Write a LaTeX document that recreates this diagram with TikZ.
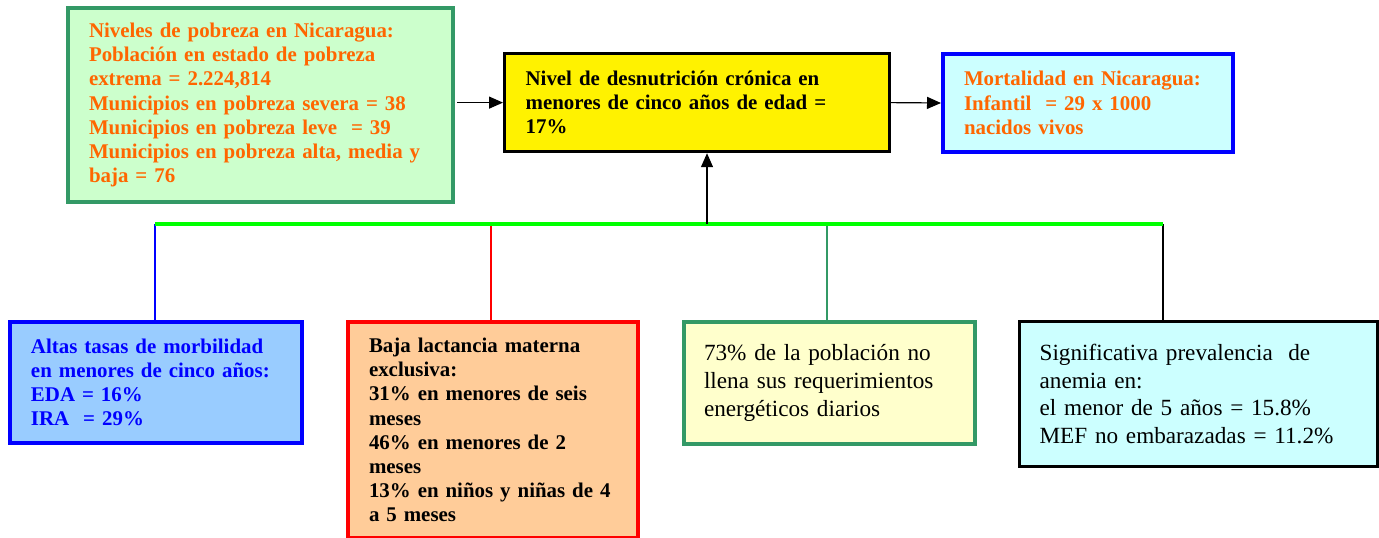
\documentclass[tikz,border=0pt]{standalone}
\usepackage{fontspec}
\setmainfont{Liberation Serif}
\usepackage{xcolor}
\usetikzlibrary{arrows.meta}
\usetikzlibrary{positioning}

\definecolor{seagreen}{HTML}{339966}
\definecolor{palegreen}{HTML}{CCFFCC}
\definecolor{naranja}{HTML}{FF6600}
\definecolor{palecyan}{HTML}{CCFFFF}
\definecolor{paleblue}{HTML}{99CCFF}
\definecolor{peach}{HTML}{FFCC99}
\definecolor{paleyellow}{HTML}{FFFFCC}
\definecolor{brightgreen}{HTML}{00FF00}

\tikzset{
  caja/.style={draw, rectangle, anchor=north west, align=left,
    inner xsep=10.5pt, inner ysep=0pt, line width=1.6pt},
  negrita/.style={font=\fontsize{10.45}{12.1}\selectfont\bfseries},
  normal/.style={font=\fontsize{11.6}{13.8}\selectfont, inner xsep=10pt},
  flecha/.style={-{Triangle[length=7pt,width=6pt]}, line width=0.6pt}
}

\begin{document}
\begin{tikzpicture}[x=0.5pt, y=-0.5pt]
    \useasboundingbox (0,0) rectangle (1379,537);
    % top row
    \node[caja, negrita, draw=seagreen, line width=2pt, fill=palegreen, text=naranja,
          text width=171.5pt, minimum height=97pt] (pobreza) at (66,6)
      {Niveles de pobreza en Nicaragua:\\
       Población en estado de pobreza\\
       extrema = 2.224,814\\
       Municipios en pobreza severa = 38\\
       Municipios en pobreza leve \ = 39\\
       Municipios en pobreza alta, media y\\
       baja = 76};
    \node[caja, negrita, fill=yellow, text width=171.5pt, minimum height=49pt]
      (desnut) at (503,52)
      {Nivel de desnutrición crónica en\\
       menores de cinco años de edad =\\
       17\%};
    \node[caja, negrita, draw=blue, line width=2pt, fill=palecyan, text=naranja,
          text width=124pt, minimum height=49pt] (mortal) at (941,52)
      {Mortalidad en Nicaragua:\\
       Infantil \ = 29 x 1000\\
       nacidos vivos};

    % bottom row
    \node[caja, negrita, draw=blue, line width=2pt, fill=paleblue, text=blue,
          text width=125pt, minimum height=60.5pt] (morbi) at (8,320)
      {Altas tasas de morbilidad\\
       en menores de cinco años:\\
       EDA = 16\%\\
       IRA \ = 29\%};
    \node[caja, negrita, draw=red, line width=2pt, fill=peach,
          text width=124pt, minimum height=108pt] (lactancia) at (346,320)
      {Baja lactancia materna\\
       exclusiva:\\
       31\% en menores de seis\\
       meses\\
       46\% en menores de 2\\
       meses\\
       13\% en niños y niñas de 4\\
       a 5 meses};
    \node[caja, normal, draw=seagreen, line width=2pt, fill=paleyellow,
          text width=125.5pt, minimum height=61pt] (energia) at (682,320)
      {73\% de la población no\\
       llena sus requerimientos\\
       energéticos diarios};
    \node[caja, normal, fill=palecyan, text width=159pt, minimum height=72.5pt]
      (anemia) at (1018,320)
      {Significativa prevalencia \ de\\
       anemia en:\\
       el menor de 5 años = 15.8\%\\
       MEF no embarazadas = 11.2\%};

    % bus coordinates
    \coordinate (busA) at (155,224);
    \coordinate (busB) at (491,224);
    \coordinate (busM) at (707,224);
    \coordinate (busC) at (827,224);
    \coordinate (busD) at (1163,224);

    \draw[blue, line width=0.6pt] (busA) -- (busA |- morbi.north);
    \draw[red, line width=0.6pt] (busB) -- (busB |- lactancia.north);
    \draw[seagreen, line width=0.8pt] (busC) -- (busC |- energia.north);
    \draw[line width=1.1pt] (busD) -- (busD |- anemia.north);
    \draw[brightgreen, line width=1.6pt] (busA) -- (busD);

    \draw[flecha] (busM) -- (busM |- desnut.south);
    \draw[flecha] ([xshift=1pt]pobreza.east |- desnut.west) -- (desnut.west);
    \draw[flecha] (desnut.east) -- (mortal.west);
\end{tikzpicture}
\end{document}
